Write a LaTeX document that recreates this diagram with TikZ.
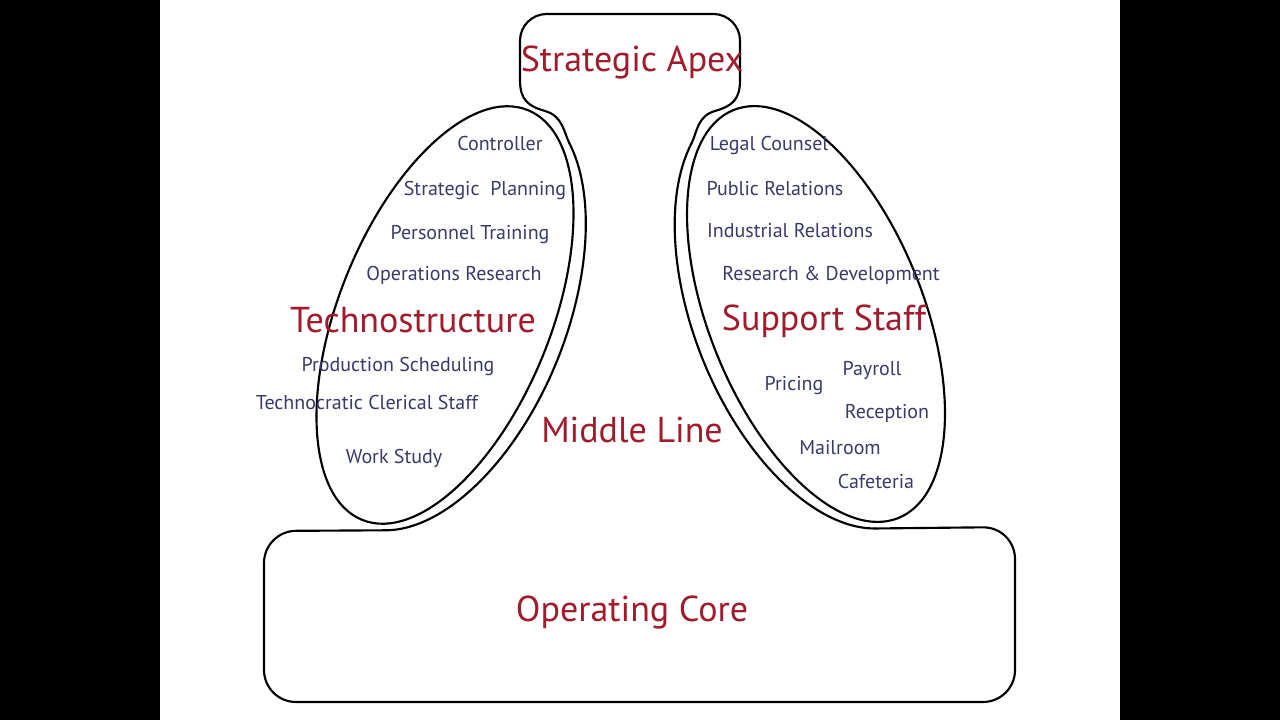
\documentclass[tikz,border=0pt]{standalone}
\usepackage{fontspec}
\setmainfont{PT Sans}

\definecolor{partred}{RGB}{160,28,44}
\definecolor{roleblue}{RGB}{58,58,104}

\begin{document}
\begin{tikzpicture}[
            x=0.75pt, y=-0.75pt,
            outline/.style={draw=black, line width=1.6pt, line cap=round, line join=round},
            part/.style={text=partred, font=\fontsize{27}{30}\selectfont, anchor=base, inner sep=0pt},
            role/.style={text=roleblue, font=\fontsize{15}{18}\selectfont, anchor=base, inner sep=0pt},
        ]

        % Draw the frame
        \fill[black] (0,0) rectangle (1280,720);
        \fill[white] (160,0) rectangle (1120,720);

        % Draw the technostructure and the support staff
        \draw[outline, rotate around={-22:(445,315)}] (445,315) ellipse [x radius=106, y radius=221];
        \draw[outline, rotate around={22:(816,314)}] (816,314) ellipse [x radius=107, y radius=220];

        % Draw the middle line round the two staff parts
        \draw[outline, shift={(445,315)}, rotate=-22] (-65:121 and 227) coordinate (techTop)
            arc[start angle=-65, end angle=78, x radius=121, y radius=227] coordinate (techBase);
        \draw[outline, shift={(816,314)}, rotate=22] (245:122 and 226) coordinate (supTop)
            arc[start angle=245, end angle=102, x radius=122, y radius=226] coordinate (supBase);

        % Draw the strategic apex with its neck
        \draw[outline, rounded corners=20pt] (520,80) -- (520,14) -- (740,14) -- (740,80);
        \draw[outline] (520,80) .. controls (520,100) and (528,106) .. (545,111)
            .. controls (563,116) and (564,133) .. (techTop);
        \draw[outline] (740,80) .. controls (740,100) and (732,106) .. (715,111)
            .. controls (697,116) and (697,133) .. (supTop);

        % Draw the operating core
        \draw[outline, rounded corners=24pt] (techBase) -- (264,531) -- (264,702) -- (1015,702) -- (1015,527) -- (supBase);

        % Draw the five parts
        \node[part] (apex) at (632,72) {Strategic Apex};
        \node[part] (techno) at (413,332) {Technostructure};
        \node[part] (middle) at (632,442) {Middle Line};
        \node[part] (support) at (824,330) {Support Staff};
        \node[part] (core) at (632,621) {Operating Core};

        % Draw the units of the technostructure
        \foreach \name/\x/\y/\txt in {1/500/151/Controller, 2/485/196/{Strategic\ \ Planning},
            3/470/239/{Personnel Training}, 4/454/280/{Operations Research},
            5/398/371/{Production Scheduling}, 6/367/409/{Technocratic Clerical Staff},
            7/394/463/{Work Study}}
        \node[role] (T-\name) at (\x,\y) {\txt};

        % Draw the units of the support staff
        \foreach \name/\x/\y/\txt in {1/769/151/{Legal Counsel}, 2/775/196/{Public Relations},
            3/790/238/{Industrial Relations}, 4/831/280/{Research \& Development},
            5/794/390/Pricing, 6/872/375/Payroll, 7/887/418/Reception,
            8/840/454/Mailroom, 9/876/488/Cafeteria}
        \node[role] (S-\name) at (\x,\y) {\txt};
    \end{tikzpicture}
\end{document}
